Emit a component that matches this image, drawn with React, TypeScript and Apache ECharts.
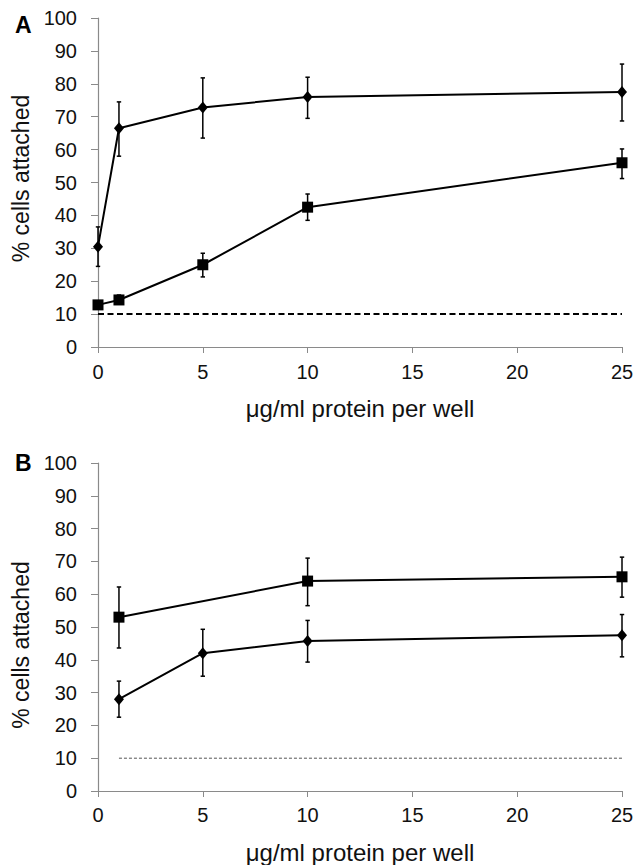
import React, { useEffect, useRef } from "react";
import * as echarts from "echarts";

// Panel A
const aDiamondX = [0, 1, 5, 10, 25];
const aDiamondY = [30.5, 66.5, 72.8, 76, 77.5];
const aDiamondLo = [24.5, 58, 63.5, 69.5, 68.7];
const aDiamondHi = [36.5, 74.5, 81.8, 82, 86];
const aSquareX = [0, 1, 5, 10, 25];
const aSquareY = [12.8, 14.3, 25, 42.5, 56];
const aSquareLo = [12.8, 13, 21.3, 38.5, 51.2];
const aSquareHi = [12.8, 15.8, 28.5, 46.5, 60.2];
const aBaseline = [[0, 10], [25, 10]];

// Panel B
const bSquareX = [1, 10, 25];
const bSquareY = [53, 64, 65.3];
const bSquareLo = [43.6, 56.5, 59.1];
const bSquareHi = [62.2, 71, 71.3];
const bDiamondX = [1, 5, 10, 25];
const bDiamondY = [28, 42, 45.7, 47.5];
const bDiamondLo = [22.5, 35, 39.3, 40.9];
const bDiamondHi = [33.5, 49.3, 52, 53.8];
const bBaseline = [[1, 10], [25, 10]];

const FONT = "Liberation Sans, Arial, sans-serif";
const AXIS_GRAY = "#8a8a8a";
const TICK_FONT = 20;

function pts(xs: number[], ys: number[]) {
  return xs.map((x, i) => [x, ys[i]]);
}
function errs(xs: number[], lo: number[], hi: number[]) {
  return xs.map((x, i) => [x, lo[i], hi[i]]);
}

const errRender = (params: any, api: any) => {
  const x = api.value(0);
  const lo = api.value(1);
  const hi = api.value(2);
  if (hi - lo < 0.01) return { type: "group", children: [] };
  const pLo = api.coord([x, lo]);
  const pHi = api.coord([x, hi]);
  const cap = 2.2;
  const st = { stroke: "#000", lineWidth: 1.5 };
  return {
    type: "group",
    children: [
      { type: "line", shape: { x1: pLo[0], y1: pLo[1], x2: pHi[0], y2: pHi[1] }, style: st },
      { type: "line", shape: { x1: pLo[0] - cap, y1: pLo[1], x2: pLo[0] + cap, y2: pLo[1] }, style: st },
      { type: "line", shape: { x1: pHi[0] - cap, y1: pHi[1], x2: pHi[0] + cap, y2: pHi[1] }, style: st },
    ],
  };
};

function xAxis(gridIndex: number, labelMargin: number) {
  return {
    type: "value",
    gridIndex,
    min: 0,
    max: 25,
    interval: 5,
    name: "μg/ml protein per well",
    nameLocation: "middle",
    nameGap: 49,
    nameTextStyle: { fontFamily: FONT, fontSize: 24, color: "#111" },
    axisLine: { show: true, onZero: false, lineStyle: { color: AXIS_GRAY, width: 1.2 } },
    axisTick: { show: true, length: 6, lineStyle: { color: AXIS_GRAY } },
    axisLabel: { fontFamily: FONT, fontSize: TICK_FONT, color: "#111", margin: labelMargin },
    splitLine: { show: false },
  };
}

function yAxis(gridIndex: number, namePadding: number[]) {
  return {
    type: "value",
    gridIndex,
    min: 0,
    max: 100,
    interval: 10,
    name: "% cells attached",
    nameLocation: "middle",
    nameGap: 63,
    nameTextStyle: { fontFamily: FONT, fontSize: 23, color: "#111", padding: namePadding },
    axisLine: { show: true, lineStyle: { color: AXIS_GRAY, width: 1.2 } },
    axisTick: { show: true, length: 7, lineStyle: { color: AXIS_GRAY } },
    axisLabel: { fontFamily: FONT, fontSize: TICK_FONT, color: "#111", margin: 21 },
    splitLine: { show: false },
  };
}

function lineSeries(idx: number, data: number[][], symbol: string, size: any) {
  return {
    type: "line",
    xAxisIndex: idx,
    yAxisIndex: idx,
    data,
    symbol,
    symbolSize: size,
    showSymbol: true,
    itemStyle: { color: "#000" },
    lineStyle: { color: "#000", width: 2 },
    z: 3,
  };
}

function errSeries(idx: number, data: number[][]) {
  return {
    type: "custom",
    xAxisIndex: idx,
    yAxisIndex: idx,
    data,
    encode: { x: 0, y: [1, 2] },
    renderItem: errRender,
    z: 2,
  };
}

export default function App() {
  const ref = useRef<HTMLDivElement>(null);
  useEffect(() => {
    if (!ref.current) return;
    const chart = echarts.init(ref.current, null, { renderer: "svg" });
    chart.setOption({
      animation: false,
      grid: [
        { left: 98, right: 14, top: 18, height: 329, containLabel: false, outerBoundsMode: "none" },
        { left: 98, right: 14, top: 463, height: 328, containLabel: false, outerBoundsMode: "none" },
      ],
      xAxis: [xAxis(0, 15), xAxis(1, 14)],
      yAxis: [yAxis(0, [0, 0, 0, 8]), yAxis(1, [0, 36, 0, 0])],
      graphic: [
        {
          type: "text",
          left: 15,
          top: 13,
          style: { text: "A", fontFamily: FONT, fontSize: 23, fontWeight: "bold", fill: "#000" },
        },
        {
          type: "text",
          left: 15,
          top: 451,
          style: { text: "B", fontFamily: FONT, fontSize: 23, fontWeight: "bold", fill: "#000" },
        },
      ],
      series: [
        {
          type: "line",
          xAxisIndex: 0,
          yAxisIndex: 0,
          data: aBaseline,
          symbol: "none",
          lineStyle: { color: "#000", width: 2, type: [6, 3.5] },
          z: 1,
        },
        errSeries(0, errs(aDiamondX, aDiamondLo, aDiamondHi)),
        errSeries(0, errs(aSquareX, aSquareLo, aSquareHi)),
        lineSeries(0, pts(aDiamondX, aDiamondY), "diamond", [10, 12]),
        lineSeries(0, pts(aSquareX, aSquareY), "rect", 11),
        {
          type: "line",
          xAxisIndex: 1,
          yAxisIndex: 1,
          data: bBaseline,
          symbol: "none",
          lineStyle: { color: "#555", width: 1, type: [3, 2] },
          z: 1,
        },
        errSeries(1, errs(bSquareX, bSquareLo, bSquareHi)),
        errSeries(1, errs(bDiamondX, bDiamondLo, bDiamondHi)),
        lineSeries(1, pts(bSquareX, bSquareY), "rect", 11),
        lineSeries(1, pts(bDiamondX, bDiamondY), "diamond", [10, 12]),
      ],
    });
    return () => chart.dispose();
  }, []);
  return (
    <div
      ref={ref}
      style={{ position: "fixed", left: 0, top: 0, width: 636, height: 865, background: "#fff" }}
    />
  );
}
